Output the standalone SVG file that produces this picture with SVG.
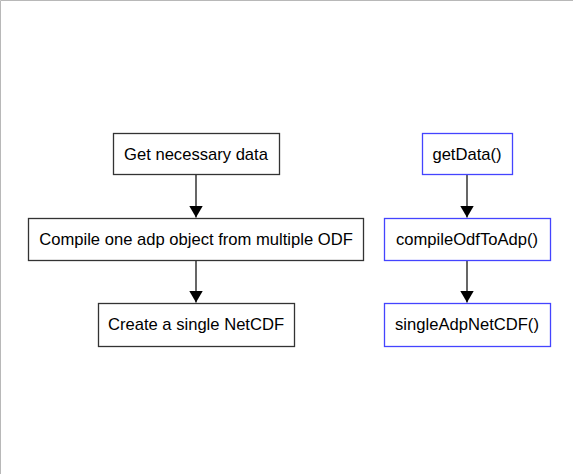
<svg xmlns="http://www.w3.org/2000/svg" width="573" height="474" viewBox="0 0 573 474">
<style>
.n rect{fill:#fff;stroke:#333;stroke-width:1.3}
.b rect{stroke:#4444ff}
text{font-family:"Liberation Sans",Arial,sans-serif;font-size:16.6px;fill:#000;text-anchor:middle}
.c line{stroke:#000;stroke-width:1.2}
</style>
<defs>
<marker id="ah" markerWidth="12" markerHeight="14" refX="12" refY="7" orient="auto" markerUnits="userSpaceOnUse">
<path d="M0,0 L12,7 L0,14 z" fill="#000"/>
</marker>
</defs>
<rect x="0" y="0" width="573" height="474" fill="#fff"/>
<path d="M0.5,474 V0.5 H573" fill="none" stroke="#b8b8b8" stroke-width="1"/>
<g id="connectors" class="c">
<line x1="196" y1="174.5" x2="196" y2="217.5" marker-end="url(#ah)"/>
<line x1="196" y1="260.5" x2="196" y2="302.5" marker-end="url(#ah)"/>
<line x1="467" y1="174.5" x2="467" y2="217.5" marker-end="url(#ah)"/>
<line x1="467" y1="260.5" x2="467" y2="302.5" marker-end="url(#ah)"/>
</g>
<g id="n1" class="n"><rect x="113.5" y="133.5" width="166" height="41"/><text x="196" y="159.5">Get necessary data</text></g>
<g id="n2" class="n"><rect x="28.5" y="218.5" width="335" height="42"/><text x="196" y="244.8">Compile one adp object from multiple ODF</text></g>
<g id="n3" class="n"><rect x="98.5" y="303.5" width="196" height="43"/><text x="196" y="329.8">Create a single NetCDF</text></g>
<g id="f1" class="n b"><rect x="422.5" y="133.5" width="90" height="41"/><text x="467" y="159.5">getData()</text></g>
<g id="f2" class="n b"><rect x="384.5" y="218.5" width="166" height="42"/><text x="467" y="244.8">compileOdfToAdp()</text></g>
<g id="f3" class="n b"><rect x="384.5" y="303.5" width="166" height="43"/><text x="467" y="329.8">singleAdpNetCDF()</text></g>
</svg>
